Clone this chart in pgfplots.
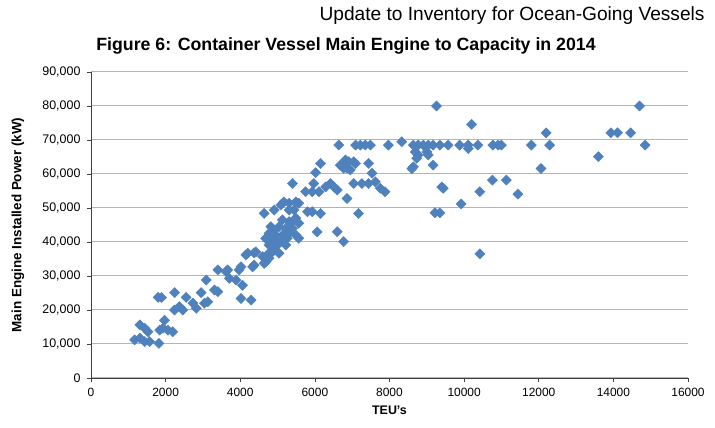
\documentclass[border=0pt]{standalone}
\usepackage{pgfplots}
\pgfplotsset{compat=1.18}
\usepackage{fontspec}
\setmainfont{Liberation Sans}
\usetikzlibrary{calc}
\definecolor{ptblue}{HTML}{4F81BD}
\definecolor{gridgray}{HTML}{B4B4B4}
\pgfplotstableread{
teu kw
1170 11200
1310 11700
1440 10700
1570 10700
1820 10200
1310 15600
1440 14600
1530 13600
1970 17000
1930 14600
2060 14100
2190 13600
1840 14100
1800 23700
1890 23700
2240 25100
2550 23700
2240 20000
2370 21000
2460 20000
2730 22000
2820 20500
3040 22000
3130 22400
2950 25100
3090 28800
3310 25900
3400 25400
3620 31300
3710 29300
3890 28800
4060 27300
4020 23400
4290 22900
3400 31800
3660 31800
3970 31800
4020 32700
4330 32700
4370 33200
4640 33700
4600 35700
4690 34200
4200 36700
4370 36800
4150 36200
4770 36700
5040 36700
4910 37600
4420 37100
4860 37100
4770 35200
4770 39100
5000 39100
5220 39100
4680 41100
4860 40600
5090 40600
5260 41100
5570 41100
4770 42500
4950 42000
5130 42000
5310 42500
5490 42000
4910 43500
5040 44500
5220 44000
5400 44000
5130 46500
5310 46000
5440 46500
5570 45500
4820 44500
5490 47000
4640 48400
4910 49400
5090 50900
5170 51800
5310 51400
5490 51800
5570 51400
5440 49400
5310 49400
5800 48900
5930 48900
6150 48400
6060 43000
6600 43000
6770 40100
5400 57200
5750 54800
5930 54800
6110 54800
6290 56200
6420 57200
6510 56200
6600 55300
5970 57200
6860 52800
7170 48400
6020 60400
6150 63100
6680 62600
6820 64100
6910 63600
7040 63600
6860 61700
6950 61200
7090 63100
6770 61700
7440 63100
7530 60200
7620 57700
7040 57200
7260 57200
7440 57200
7750 55800
7880 54800
6640 68500
7090 68500
7220 68500
7350 68500
7490 68500
7970 68500
8330 69500
8640 68500
8770 68500
8910 68500
9040 68500
9170 68500
9350 68500
9570 68500
9880 68500
10110 68500
10370 68500
10770 68500
10910 68500
11000 68500
11800 68500
12290 68500
9260 80000
10200 74600
8690 66500
8770 65600
9000 66500
9040 65600
8730 64600
8640 62100
8600 61600
9170 62600
10110 67500
9400 56200
9440 55800
9920 51200
9220 48600
9350 48600
10420 54800
10760 58200
11130 58200
11440 54100
12060 61600
12200 72100
13600 65100
13930 72100
14110 72100
14460 72100
14700 80000
14850 68500
10420 36500
}\datatable
\begin{document}
\begin{tikzpicture}
\begin{axis}[
  name=ax,
  scale only axis,
  width=597bp, height=306bp,
  xmin=0, xmax=16000, ymin=0, ymax=90000,
  xtick={0,2000,...,16000},
  ytick={0,10000,...,90000},
  axis x line*=bottom, axis y line*=left,
  axis line style={black!75, line width=0.7pt},
  tick style={black!75, line width=0.7pt},
  tick align=outside,
  major tick length=4bp,
  ymajorgrids,
  grid style={gridgray, line width=1pt},
  /pgf/number format/assume math mode=true,
  xticklabel style={font=\fontsize{12}{13}\selectfont, /pgf/number format/1000 sep={}, yshift=-3bp},
  yticklabel style={font=\fontsize{12.5}{13}\selectfont, /pgf/number format/1000 sep={,}, xshift=-3bp},
  scaled ticks=false,
  xlabel={\textbf{TEU's}},
  ylabel={\textbf{Main Engine Installed Power (kW)}},
  xlabel style={font=\fontsize{12.5}{13}\selectfont, at={(axis description cs:0.5,-0.1046)}, anchor=center},
  ylabel style={font=\fontsize{13.5}{14}\selectfont, at={(axis description cs:-0.1223,0.5)}, anchor=center},
  clip=false,
]
\addplot[only marks, mark=square*, mark size=3.6bp, mark options={rotate=45, fill=ptblue, draw=ptblue}] table[x=teu, y=kw] {\datatable};
\end{axis}
\node[anchor=center, font=\bfseries\fontsize{17.8}{19}\selectfont] at ($(ax.north west)+(255bp,26bp)$) {Figure 6: Container Vessel Main Engine to Capacity in 2014};
\node[anchor=east, font=\fontsize{19.2}{21}\selectfont] at ($(ax.north east)+(20bp,56bp)$) {Update to Inventory for Ocean-Going Vessels};
\pgfresetboundingbox
\path ($(ax.south west)+(-91bp,-50bp)$) rectangle ($(ax.north east)+(27bp,72bp)$);
\end{tikzpicture}
\end{document}
